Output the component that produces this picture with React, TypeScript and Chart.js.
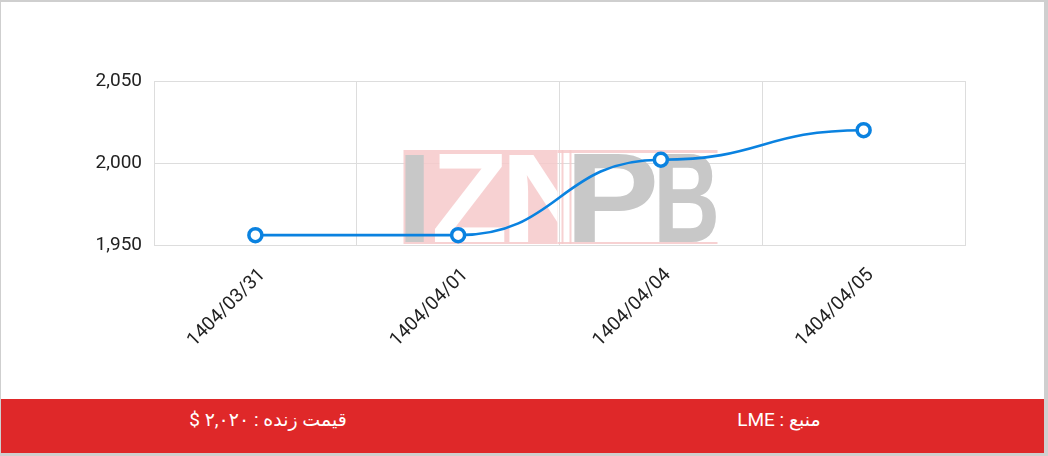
import React, { useEffect, useRef } from "react";
import { Chart, registerables } from "chart.js";

Chart.register(...registerables);

const categories = ["1404/03/31", "1404/04/01", "1404/04/04", "1404/04/05"];
const prices = [1956, 1956, 2002, 2020];
const yMin = 1950;
const yMax = 2050;
const yStep = 50;
const priceLabel = "قیمت زنده : ۲,۰۲۰ $";
const sourceLabel = "منبع : LME";

const LINE_COLOR = "#0a82e0";

// smooth curve with horizontal tangents at every point (S-shaped segments)
const flatTangentPlugin = {
  id: "flatTangent",
  beforeDatasetDraw(chart: any, args: any) {
    const meta = args.meta;
    const line = meta.dataset;
    if (!line || !line.updateControlPoints) return;
    line.updateControlPoints(chart.chartArea, meta.indexAxis);
    const pts = meta.data;
    for (let i = 0; i < pts.length; i++) {
      const p = pts[i];
      const prev = pts[i - 1];
      const next = pts[i + 1];
      p.cp1x = prev ? p.x - (p.x - prev.x) / 2 : p.x;
      p.cp1y = p.y;
      p.cp2x = next ? p.x + (next.x - p.x) / 2 : p.x;
      p.cp2y = p.y;
    }
  },
};

const watermarkPlugin = {
  id: "iznpbWatermark",
  beforeDatasetsDraw(chart: any) {
    const { ctx, chartArea: a } = chart;
    const w = 314;
    const h = 94;
    const x0 = (a.left + a.right) / 2 - w / 2 + 1;
    const y0 = a.bottom - h - 1;
    ctx.save();
    ctx.globalAlpha = 0.85;
    ctx.fillStyle = "#f6c9ca";
    ctx.fillRect(x0, y0, 154, h);
    ctx.fillRect(x0 + 154, y0, w - 154, 3);
    ctx.fillRect(x0 + 154, y0 + h - 2, w - 154, 2);
    ctx.fillRect(x0 + 158, y0, 2, h);
    ctx.fillRect(x0 + 166, y0, 2, h);
    const letters: [string, number, number, string, boolean][] = [
      ["I", 2, 21, "#c8c8c8", false],
      ["Z", 31, 101, "#ffffff", false],
      ["N", 106, 192, "#ffffff", true],
      ["P", 171, 251, "#c8c8c8", false],
      ["B", 256, 313, "#c8c8c8", false],
    ];
    ctx.font = 'bold 120px "Liberation Sans", Arial, sans-serif';
    ctx.textBaseline = "alphabetic";
    ctx.textAlign = "left";
    const top = y0 + 4;
    const bottom = y0 + h - 2;
    for (const [ch, l, r, col, clip] of letters) {
      const m = ctx.measureText(ch);
      const inkL = -m.actualBoundingBoxLeft;
      const inkR = m.actualBoundingBoxRight;
      const asc = m.actualBoundingBoxAscent;
      const sx = (r - l) / (inkR - inkL);
      const sy = (bottom - top) / asc;
      ctx.save();
      if (clip) {
        ctx.beginPath();
        ctx.rect(x0, y0, 154, h);
        ctx.clip();
      }
      ctx.translate(x0 + l, bottom);
      ctx.scale(sx, sy);
      ctx.fillStyle = col;
      ctx.globalAlpha = 1;
      ctx.fillText(ch, -inkL, 0);
      ctx.restore();
    }
    ctx.restore();
  },
};

export default function App() {
  const canvasRef = useRef<HTMLCanvasElement | null>(null);

  useEffect(() => {
    document.body.style.margin = "0";
    document.body.style.background = "#cfcfcf";
    if (!canvasRef.current) return;
    const chart = new Chart(canvasRef.current, {
      type: "line",
      data: {
        labels: categories,
        datasets: [
          {
            data: prices,
            borderColor: LINE_COLOR,
            borderWidth: 2.6,
            backgroundColor: "#ffffff",
            pointBackgroundColor: "#ffffff",
            pointBorderColor: LINE_COLOR,
            pointBorderWidth: 3.5,
            pointRadius: 6.5,
            cubicInterpolationMode: "monotone",
            fill: false,
          },
        ],
      },
      options: {
        animation: false,
        responsive: true,
        maintainAspectRatio: false,
        layout: { padding: { top: 79, right: 79, left: 0, bottom: 0 } },
        plugins: { legend: { display: false }, tooltip: { enabled: false } },
        scales: {
          x: {
            offset: true,
            grid: { offset: true, color: "#dddddd", drawTicks: false },
            border: { color: "#dddddd" },
            ticks: {
              color: "#222222",
              font: { family: "Roboto", size: 19 },
              minRotation: 45,
              maxRotation: 45,
              padding: 19,
              labelOffset: 7,
            },
            afterFit(scale: any) {
              scale.height = 154;
            },
          },
          y: {
            min: yMin,
            max: yMax,
            grid: { color: "#dddddd", drawTicks: false },
            border: { color: "#dddddd" },
            ticks: {
              stepSize: yStep,
              color: "#222222",
              font: { family: "Roboto", size: 19 },
              padding: 12,
            },
            afterFit(scale: any) {
              scale.width = 153;
            },
          },
        },
      },
      plugins: [watermarkPlugin, flatTangentPlugin],
    });
    return () => chart.destroy();
  }, []);

  return (
    <div
      style={{
        position: "absolute",
        left: 1,
        top: 2,
        width: 1043,
        height: 451,
        background: "#ffffff",
      }}
    >
      <div style={{ position: "relative", width: 1043, height: 397 }}>
        <canvas ref={canvasRef} />
      </div>
      <div
        style={{
          position: "relative",
          height: 54,
          background: "#df2829",
          color: "#ffffff",
          fontFamily: 'Roboto, "DejaVu Sans", sans-serif',
          fontSize: 19,
        }}
      >
        <div
          dir="rtl"
          style={{
            position: "absolute",
            left: 0,
            width: 534,
            top: 0,
            lineHeight: "42px",
            textAlign: "center",
          }}
        >
          {priceLabel}
        </div>
        <div
          dir="rtl"
          style={{
            position: "absolute",
            left: 522,
            width: 512,
            top: 0,
            lineHeight: "42px",
            textAlign: "center",
          }}
        >
          {sourceLabel}
        </div>
      </div>
    </div>
  );
}
